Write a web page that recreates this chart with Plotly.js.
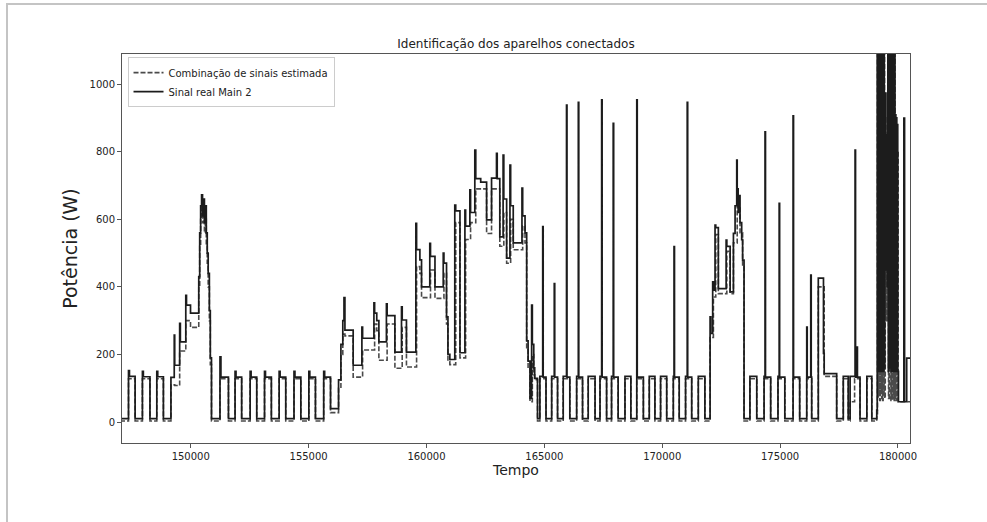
<!DOCTYPE html>
<html>
<head>
<meta charset="utf-8">
<script src="https://cdn.plot.ly/plotly-3.0.1.min.js"></script>
<style>
html,body{margin:0;padding:0;background:#fff;}
#chart{width:987px;height:522px;position:relative;}
#frame{position:absolute;left:6px;top:3px;width:990px;height:530px;border-top:2px solid #c4c4c4;border-left:2px solid #c4c4c4;pointer-events:none;z-index:10;}
</style>
</head>
<body>
<div id="chart"></div>
<div id="frame"></div>
<script>
// ---- data (change points of step signals) ----
const tempoReal = [
147000,147360,147400,147640,147950,147990,148270,148560,148600,148840,
149160,149300,149320,149530,149560,149790,149820,149990,
150340,150380,150420,150460,150500,150540,150580,150620,150660,150700,150740,150790,150830,150880,
151240,151280,151600,151880,151920,152160,152520,152560,152800,153130,153170,153420,
153750,153790,154030,154380,154420,154670,155010,155050,155290,155640,155680,155930,
156270,156370,156450,156500,156540,156890,157260,157290,157770,157800,157890,157980,
158300,158330,158660,158940,158970,159150,159550,159580,159720,159790,160140,160170,
160360,160710,160740,160850,160910,160990,161200,161240,161420,161630,161660,161840,
161870,162050,162090,162300,162550,162760,162970,163000,163110,163250,163280,163400,
163540,163570,163680,164050,164080,164180,164250,164310,164390,164460,164490,164550,
164590,164710,
164810,164930,164950,165070,165310,165420,165440,165560,165800,165940,165960,166080,
166370,166440,166460,166620,166860,167150,167360,167430,167450,167640,167850,167920,
167940,168130,168420,168670,168920,168940,169200,169450,169690,169930,170190,170470,
170500,170520,170720,170990,171060,171080,171250,171530,171810,
172030,172060,172140,172170,172240,172270,172380,172710,172740,172880,173020,173090,
173160,173180,173220,173260,173300,173370,173410,173470,
173720,174010,174320,174360,174380,174600,174910,174960,174980,175200,175550,175570,
175830,176130,176150,176300,176320,176340,176620,176840,176870,177400,177680,177890,
177970,178180,178200,178250,178280,178390,178680,178890,
179100,179120,179140,179160,179180,179200,179220,179240,179260,179280,179300,179320,179340,179360,179380,179400,179420,
179440,179470,179490,179520,179545,
179570,179590,179610,179630,179650,179690,179710,179730,179750,179770,179790,179810,179830,179850,179870,
179890,179910,179930,179950,179970,179990,180020,180250,180280,180370,180700
];
const potenciaReal = [
10,152,135,10,150,134,10,150,134,10,
132,257,168,292,237,375,346,322,
430,560,640,672,610,660,590,640,560,500,440,330,190,10,
193,133,10,150,133,10,150,133,10,150,133,10,
150,133,10,150,133,10,150,133,10,150,133,40,
125,230,300,368,272,168,281,248,353,322,300,237,
350,315,207,341,302,207,588,510,480,400,529,490,
400,500,470,311,200,185,642,625,205,627,580,687,
620,805,720,710,598,722,795,720,548,790,660,485,
760,640,530,692,610,560,240,180,70,346,230,160,
129,10,
135,578,133,10,135,410,133,10,135,938,133,10,
135,946,133,10,135,10,135,953,133,10,135,884,
133,10,135,10,953,133,10,135,10,135,10,135,
519,133,10,135,946,133,10,135,10,
311,262,415,390,583,575,395,538,520,385,558,640,
775,690,620,670,590,540,479,10,
135,10,135,859,133,10,135,647,133,10,906,133,
10,281,133,435,133,10,426,203,143,10,135,10,
135,805,133,222,133,10,135,10,
35,1200,150,1200,155,1200,150,1200,160,1200,150,1200,170,1200,150,1200,160,
700,973,450,850,400,
1200,150,1200,160,341,1200,150,1200,160,1200,150,1200,160,1200,150,
909,160,900,150,880,150,60,899,60,189,189
];
const tempoEst = [
147000,147360,147640,147950,148270,148560,148840,
149160,149320,149530,149790,149990,
150340,150380,150420,150460,150500,150540,150580,150620,150660,150700,150740,150790,150830,150880,
151240,151600,151880,152160,152520,152800,153130,153420,153750,154030,154380,154670,
155010,155290,155640,155930,
156270,156370,156450,156540,156890,157290,157800,157890,157980,158330,158660,158970,
159150,159580,159720,159790,160170,160360,160740,160850,160910,160990,161240,161420,
161660,161870,162090,162550,162760,163000,163110,163280,163400,163570,163680,164080,
164180,164250,164310,164390,164490,164550,164590,164710,
164810,165070,165310,165560,165800,166080,166370,166620,166860,167150,167360,167640,
167850,168130,168420,168670,168920,169200,169450,169690,169930,170190,170470,170720,
170990,171250,171530,171810,
172030,172170,172270,172380,172740,172880,173020,173180,173300,173410,173470,
173720,174010,174320,174600,174910,175200,175550,175830,176130,176340,176620,176870,
177400,177680,177890,177970,178160,178390,178680,178890,
179100,179130,179150,179170,179190,179210,179230,179250,179270,179290,179310,179330,179350,179370,179390,179410,179430,
179460,179480,179510,179540,
179580,179600,179620,179640,179700,179720,179740,179760,179780,179800,179820,179840,179860,179880,
179900,179920,179940,179960,179980,180010,180700
];
const potenciaEst = [
3,128,3,128,3,128,3,
110,108,210,300,280,
400,520,600,640,590,620,560,600,520,470,400,300,170,3,
128,3,128,3,128,3,128,3,128,3,128,3,
128,3,128,28,
100,200,260,255,133,213,290,270,183,290,159,280,
163,460,440,368,450,366,440,290,180,170,590,190,
540,590,690,558,690,690,520,620,470,600,510,580,
530,220,160,60,200,140,125,3,
128,3,128,3,128,3,128,3,128,3,128,3,
128,3,128,3,128,3,128,3,128,3,128,3,
128,3,128,3,
250,370,555,380,505,380,530,640,560,460,3,
128,3,128,3,128,3,128,3,128,3,400,135,
3,128,3,60,128,3,128,3,
20,1100,70,1100,80,1100,64,1100,85,1100,70,1100,64,1100,80,1100,70,
900,300,800,300,
1100,70,1100,64,1100,70,1100,64,1100,80,1100,64,1100,70,
850,64,850,64,800,60,60
];
const xTicks = [150000,155000,160000,165000,170000,175000,180000];
const yTicks = [0,200,400,600,800,1000];
const legendNames = ["Combinação de sinais estimada","Sinal real Main 2"];

const FONT = "DejaVu Sans, Liberation Sans, sans-serif";

const traces = [
  {x: tempoEst, y: potenciaEst, type:'scatter', mode:'lines', name: legendNames[0],
   line:{shape:'hv', color:'#4a4a4a', width:1.6, dash:'5px,2px'}},
  {x: tempoReal, y: potenciaReal, type:'scatter', mode:'lines', name: legendNames[1],
   line:{shape:'hv', color:'#1c1c1c', width:1.7}}
];

const axisCommon = {
  showgrid:false, zeroline:false, showline:true, mirror:true,
  linecolor:'#555', linewidth:1, ticks:'outside', ticklen:4, tickwidth:1,
  tickcolor:'#555', tickfont:{family:FONT, size:10, color:'#222'}
};

const layout = {
  width:987, height:522,
  margin:{l:122, r:77, t:54, b:79, pad:0},
  paper_bgcolor:'#fff', plot_bgcolor:'#fff',
  font:{family:FONT, color:'#222'},
  title:{text:'Identificação dos aparelhos conectados', font:{family:FONT, size:12, color:'#222'},
         x:0.5, xref:'paper', y:1-44/522, yref:'container', yanchor:'middle', xanchor:'center'},
  xaxis:Object.assign({}, axisCommon, {
    range:[147084,180510], tickvals:xTicks, ticktext:xTicks.map(String),
    title:{text:'Tempo', font:{family:FONT, size:14, color:'#222'}, standoff:4}
  }),
  yaxis:Object.assign({}, axisCommon, {
    range:[-62,1089], tickvals:yTicks, ticktext:yTicks.map(String),
    title:{text:'Potência (W)', font:{family:FONT, size:19, color:'#222'}, standoff:6}
  }),
  showlegend:true,
  legend:{x:0.007, y:0.992, xanchor:'left', yanchor:'top',
          bgcolor:'rgba(255,255,255,0.9)', bordercolor:'#cccccc', borderwidth:1,
          font:{family:FONT, size:10, color:'#222'}, tracegroupgap:0}
};

Plotly.newPlot('chart', traces, layout, {staticPlot:true, displayModeBar:false});
</script>
</body>
</html>
